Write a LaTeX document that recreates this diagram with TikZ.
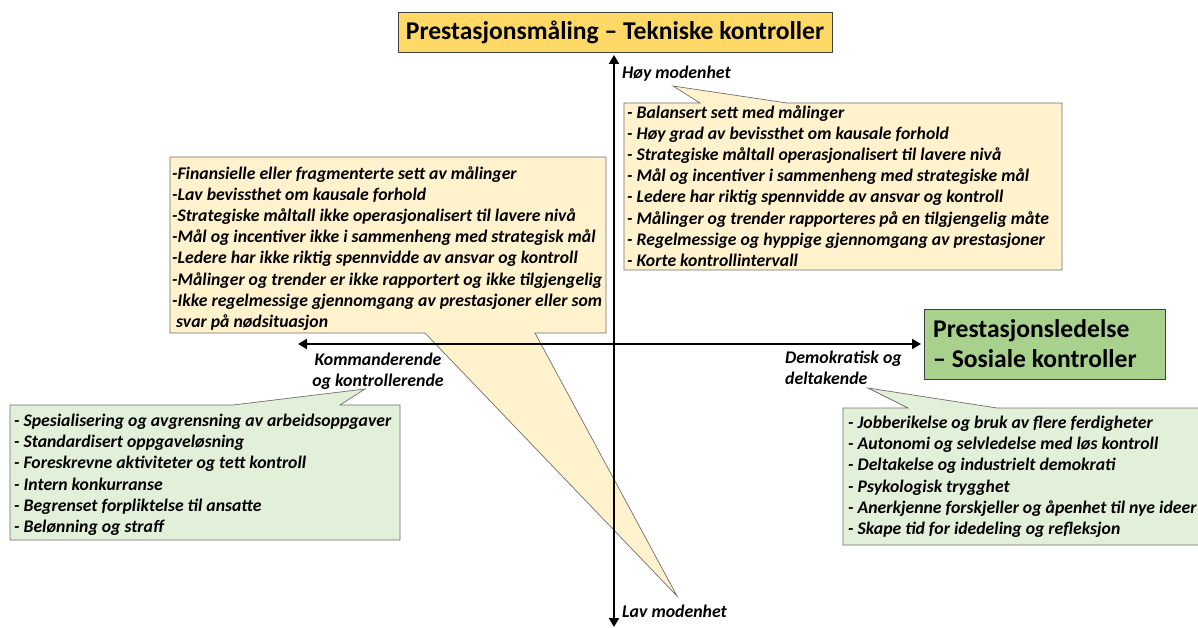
\documentclass[tikz,border=0pt]{standalone}
\usepackage{fontspec}
\setmainfont{Carlito}
\usetikzlibrary{arrows.meta}

\definecolor{titlegold}{HTML}{FFD966}
\definecolor{paleyellow}{HTML}{FFF2CC}
\definecolor{socgreen}{HTML}{A9D18E}
\definecolor{palegreen}{HTML}{E2F0D9}
\definecolor{edgegray}{HTML}{6F6F6F}

\begin{document}
\begin{tikzpicture}[x=1pt, y=-1pt,
  headbox/.style={draw=black!75, line width=0.8pt, inner sep=0pt},
  headfont/.style={font=\fontsize{25.6}{30}\selectfont\bfseries},
  calloutshape/.style={draw=edgegray, line width=0.7pt, line join=miter},
  % multi-line lists: the base anchor sits on the last line
  listtext/.style={font=\fontsize{17.7}{21.2}\selectfont\bfseries\itshape,
    align=left, inner sep=0pt, anchor=base west},
  axislabel/.style={font=\fontsize{17.8}{21}\selectfont\bfseries\itshape,
    inner sep=0pt},
  axisline/.style={line width=2.6pt, >={Triangle[width=10pt,length=9pt]}},
]
\useasboundingbox (0,0) rectangle (1198,628);

% ---------- callout tips ----------
\coordinate (trTip) at (673,86);
\coordinate (tlTip) at (677,596);
\coordinate (blTip) at (365,389);
\coordinate (brTip) at (868,388);

% ---------- callout shapes (box outline with pointer) ----------
% upper right: high maturity
\draw[calloutshape, fill=paleyellow]
  (624,103) -- (700,103) -- (trTip) -- (787,103) -- (1062,103)
  -- (1062,270) -- (624,270) -- cycle;
% upper left: low maturity (pointer runs down to "Lav modenhet")
\draw[calloutshape, fill=paleyellow]
  (170,157) -- (606,157) -- (606,333) -- (535,333) -- (tlTip)
  -- (425,333) -- (170,333) -- cycle;
% lower left: commanding and controlling
\draw[calloutshape, fill=palegreen]
  (10,405) -- (233,405) -- (blTip) -- (340,405) -- (400,405)
  -- (400,540) -- (10,540) -- cycle;
% lower right: democratic and participating
\draw[calloutshape, fill=palegreen]
  (843,408) -- (908,408) -- (brTip) -- (997,408) -- (1215,408)
  -- (1215,545) -- (843,545) -- cycle;

% ---------- callout texts ----------
\node[listtext] (trText) at (627,266.5) {%
- Balansert sett med målinger\\
- Høy grad av bevissthet om kausale forhold\\
- Strategiske måltall operasjonalisert til lavere nivå\\
- Mål og incentiver i sammenheng med strategiske mål\\
- Ledere har riktig spennvidde av ansvar og kontroll\\
- Målinger og trender rapporteres på en tilgjengelig måte\\
- Regelmessige og hyppige gjennomgang av prestasjoner\\
- Korte kontrollintervall};

\node[listtext] (tlText) at (172,327.5) {%
-Finansielle eller fragmenterte sett av målinger\\
-Lav bevissthet om kausale forhold\\
-Strategiske måltall ikke operasjonalisert til lavere nivå\\
-Mål og incentiver ikke i sammenheng med strategisk mål\\
-Ledere har ikke riktig spennvidde av ansvar og kontroll\\
-Målinger og trender er ikke rapportert og ikke tilgjengelig\\
-Ikke regelmessige gjennomgang av prestasjoner eller som\\
\ svar på nødsituasjon};

\node[listtext] (blText) at (14,532.5) {%
- Spesialisering og avgrensning av arbeidsoppgaver\\
- Standardisert oppgaveløsning\\
- Foreskrevne aktiviteter og tett kontroll\\
- Intern konkurranse\\
- Begrenset forpliktelse til ansatte\\
- Belønning og straff};

\node[listtext] (brText) at (848,534.5) {%
- Jobberikelse og bruk av flere ferdigheter\\
- Autonomi og selvledelse med løs kontroll\\
- Deltakelse og industrielt demokrati\\
- Psykologisk trygghet\\
- Anerkjenne forskjeller og åpenhet til nye ideer\\
- Skape tid for idedeling og refleksjon};

% ---------- axes ----------
\coordinate (yTop) at (614,55);
\coordinate (yBot) at (614,627);
\coordinate (xLeft) at (298,344);
\coordinate (xRight) at (921,344);
\draw[axisline, <->] (yBot) -- (yTop);
\draw[axisline, <->] (xLeft) -- (xRight);

% ---------- axis labels ----------
\node[axislabel, anchor=west] (high) at (622,74) {Høy modenhet};
\node[axislabel, anchor=west] (low) at (622,611) {Lav modenhet};
\node[axislabel, align=center, anchor=north] (cmd) at (378,353)
  {Kommanderende\\og kontrollerende};
\node[axislabel, align=left, anchor=north west] (demo) at (785,351)
  {Demokratisk og\\deltakende};

% ---------- heading boxes ----------
\node[headbox, headfont, fill=titlegold, minimum width=434pt,
  minimum height=40pt]
  (title) at (615,32) {Prestasjonsmåling – Tekniske kontroller};
\node[headbox, fill=socgreen, minimum width=241pt, minimum height=70pt]
  (soc) at (1044.5,344) {};
\node[headfont, align=left, inner sep=0pt, anchor=west]
  (socText) at (933,344) {Prestasjonsledelse\\– Sosiale kontroller};
\end{tikzpicture}
\end{document}
